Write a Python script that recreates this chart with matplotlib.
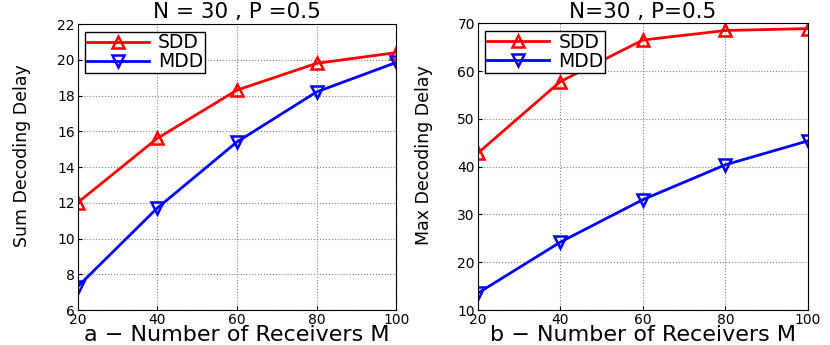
import matplotlib
matplotlib.use("Agg")
import matplotlib.pyplot as plt

# dados
receptores = [20, 40, 60, 80, 100]
sdd_soma = [12.0, 15.6, 18.3, 19.8, 20.4]
mdd_soma = [7.3, 11.7, 15.4, 18.2, 19.85]
sdd_max = [42.8, 57.8, 66.5, 68.5, 68.9]
mdd_max = [13.5, 24.2, 33.1, 40.4, 45.4]

plt.rcParams['font.family'] = ['DejaVu Sans']
fig = plt.figure(figsize=(8.3, 3.45), dpi=100)
ax1 = fig.add_axes([0.0934, 0.1014, 0.384, 0.829])
ax2 = fig.add_axes([0.5755, 0.1014, 0.398, 0.831])


def desenha(ax, sdd, mdd, ylim, yticks, titulo, ylabel, xlabel, ylab_x):
    ax.plot(receptores, sdd, color="red", lw=2, marker="^", ms=8,
            mfc="none", mew=1.8, label="SDD")
    ax.plot(receptores, mdd, color="blue", lw=2, marker="v", ms=8,
            mfc="none", mew=1.8, label="MDD")
    ax.set_xlim(20, 100)
    ax.set_ylim(*ylim)
    ax.set_xticks(receptores)
    ax.set_yticks(yticks)
    ax.tick_params(direction="in", labelsize=10, length=3, pad=2)
    ax.grid(True, linestyle=":", color="gray", lw=0.8)
    ax.set_title(titulo, fontsize=15.5, pad=4)
    ax.set_ylabel(ylabel, fontsize=12.5)
    ax.yaxis.set_label_coords(ylab_x, 0.54)
    ax.set_xlabel(xlabel, fontsize=16, labelpad=-1)
    leg = ax.legend(loc="upper left", fontsize=13.5, fancybox=False,
                    edgecolor="black", framealpha=1, handlelength=3.3,
                    borderpad=0.1, labelspacing=0.0, borderaxespad=0.4,
                    handletextpad=0.5)
    leg.get_frame().set_linewidth(1.0)


desenha(ax1, sdd_soma, mdd_soma, (6, 22), range(6, 23, 2),
        "N = 30 , P =0.5", "Sum Decoding Delay",
        "a \u2212 Number of Receivers M", -0.145)
desenha(ax2, sdd_max, mdd_max, (10, 70), range(10, 71, 10),
        "N=30 , P=0.5", "Max Decoding Delay",
        "b \u2212 Number of Receivers M", -0.135)

fig.savefig("out.png", dpi=100)
